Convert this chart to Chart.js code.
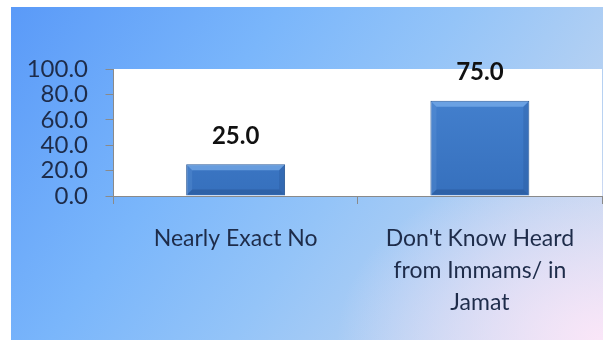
<!DOCTYPE html>
<html>
<head>
<meta charset="utf-8">
<script src="https://cdn.jsdelivr.net/npm/chart.js@4"></script>
<style>
  html, body { margin: 0; padding: 0; background: #ffffff; }
  body { width: 603px; height: 340px; position: relative; overflow: hidden; }
  #wrap {
    position: absolute; left: 11px; top: 7px; width: 592px; height: 333px;
    background:
      radial-gradient(ellipse 45% 55% at 100% 100%, rgba(250,230,248,1) 0%, rgba(250,230,248,0.5) 50%, rgba(250,230,248,0) 100%),
      linear-gradient(125deg, #5a9af8 0%, #7ab6fb 33%, #94c4f8 55%, #b8d2f2 80%, #cfdcf0 100%);
  }
  canvas { display: block; }
</style>
</head>
<body>
<div id="wrap"><canvas id="c" width="592" height="333"></canvas></div>
<script>
const categories = [
  ["Nearly Exact No"],
  ["Don't Know Heard", "from Immams/ in", "Jamat"]
];
const values = [25.0, 75.0];
const yTicks = [0, 20, 40, 60, 80, 100];

const plotBg = {
  id: 'plotBg',
  beforeDraw(chart) {
    const { ctx, chartArea: a } = chart;
    ctx.save();
    ctx.fillStyle = '#ffffff';
    ctx.fillRect(a.left, a.top, a.right - a.left, a.bottom - a.top);
    ctx.restore();
  }
};

const valueLabels = {
  id: 'valueLabels',
  afterDatasetsDraw(chart) {
    const { ctx } = chart;
    const meta = chart.getDatasetMeta(0);
    ctx.save();
    ctx.font = 'bold 24px Lato';
    ctx.fillStyle = '#111111';
    ctx.textAlign = 'center';
    ctx.textBaseline = 'bottom';
    meta.data.forEach((bar, i) => {
      ctx.fillText(values[i].toFixed(1), bar.x, bar.y - 16);
    });
    ctx.restore();
  }
};

const bevel = {
  id: 'bevel',
  afterDatasetsDraw(chart) {
    const { ctx } = chart;
    const meta = chart.getDatasetMeta(0);
    ctx.save();
    meta.data.forEach(bar => {
      const l = bar.x - bar.width / 2, r = bar.x + bar.width / 2, t = bar.y, b = bar.base;
      const d = 6;
      ctx.fillStyle = 'rgba(140,190,245,0.55)';
      ctx.beginPath();
      ctx.moveTo(l + 1, t + 1); ctx.lineTo(r - 1, t + 1); ctx.lineTo(r - d, t + d); ctx.lineTo(l + d, t + d); ctx.closePath();
      ctx.fill();
      ctx.fillStyle = 'rgba(30,70,130,0.2)';
      ctx.beginPath();
      ctx.moveTo(r - 1, t + 1); ctx.lineTo(r - 1, b - 1); ctx.lineTo(r - d, b - d); ctx.lineTo(r - d, t + d); ctx.closePath();
      ctx.fill();
      ctx.fillStyle = 'rgba(20,50,100,0.25)';
      ctx.beginPath();
      ctx.moveTo(l + 1, b - 1); ctx.lineTo(r - 1, b - 1); ctx.lineTo(r - d, b - d); ctx.lineTo(l + d, b - d); ctx.closePath();
      ctx.fill();
      ctx.fillStyle = 'rgba(120,170,230,0.2)';
      ctx.beginPath();
      ctx.moveTo(l + 1, t + 1); ctx.lineTo(l + d, t + d); ctx.lineTo(l + d, b - d); ctx.lineTo(l + 1, b - 1); ctx.closePath();
      ctx.fill();
    });
    ctx.restore();
  }
};

new Chart(document.getElementById('c'), {
  type: 'bar',
  data: {
    labels: categories,
    datasets: [{
      data: values,
      backgroundColor: (c) => {
        const chart = c.chart;
        const a = chart.chartArea;
        if (!a) return '#3f7dcb';
        const g = chart.ctx.createLinearGradient(0, a.top, 0, a.bottom);
        g.addColorStop(0, '#4784d2');
        g.addColorStop(1, '#3670bd');
        return g;
      },
      borderColor: '#2a5a98',
      borderWidth: 1,
      barPercentage: 0.405,
      categoryPercentage: 1.0
    }]
  },
  options: {
    responsive: false,
    animation: false,
    events: [],
    layout: { padding: { top: 62, right: 1, left: 0, bottom: 0 } },
    plugins: { legend: { display: false }, tooltip: { enabled: false } },
    scales: {
      x: {
        grid: { drawOnChartArea: false, drawTicks: true, tickLength: 8, color: '#8a8a8a', offset: true },
        border: { display: true, color: '#8a8a8a', width: 1 },
        ticks: {
          color: '#1e2c4a', font: { family: 'Lato', size: 23, lineHeight: 1.39 },
          padding: 19, maxRotation: 0, minRotation: 0, autoSkip: false
        },
        afterFit(scale) { scale.height = 144; }
      },
      y: {
        min: 0, max: 100,
        afterBuildTicks(scale) { scale.ticks = yTicks.map(v => ({ value: v })); },
        grid: { drawOnChartArea: false, drawTicks: true, tickLength: 8, color: '#8a8a8a' },
        border: { display: true, color: '#8a8a8a', width: 1 },
        ticks: {
          color: '#1e2c4a', font: { family: 'Lato', size: 24, lineHeight: 1.0 },
          padding: 17.5, autoSkip: false,
          callback: v => Number(v).toFixed(1)
        },
        afterFit(scale) { scale.width = 102.5; }
      }
    }
  },
  plugins: [plotBg, valueLabels, bevel]
});
</script>
</body>
</html>
